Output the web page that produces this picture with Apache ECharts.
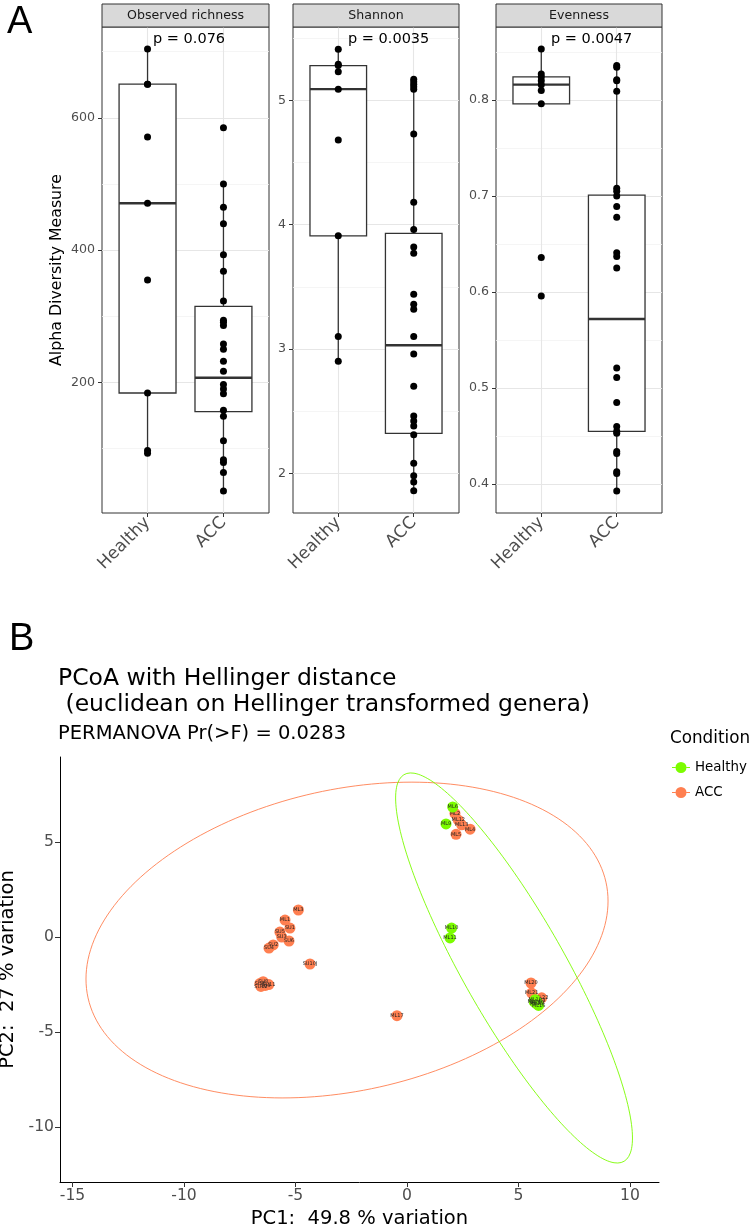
<!DOCTYPE html>
<html><head><meta charset="utf-8">
<script src="https://cdn.jsdelivr.net/npm/echarts@6/dist/echarts.min.js"></script>
<style>html,body{margin:0;padding:0;background:#fff}#c{width:753px;height:1229px}</style>
</head><body><div id="c"></div>
<script>
// ---------------- DATA : panel A ----------------
const groups = ['Healthy', 'ACC'];
const facetNames = ['Observed richness', 'Shannon', 'Evenness'];
const pValues = ['p = 0.076', 'p = 0.0035', 'p = 0.0047'];

const richnessHealthy = [704, 651, 651, 571, 471, 355, 184, 97, 93];
const richnessACC = [585, 500, 465, 440, 393, 368, 323, 294, 291, 286, 258, 250, 232, 217, 197, 190, 183, 158, 149, 112, 83, 79, 64, 36];
const shannonHealthy = [5.41, 5.29, 5.28, 5.23, 5.09, 4.68, 3.91, 3.10, 2.90];
const shannonACC = [5.17, 5.15, 5.13, 5.11, 5.09, 4.73, 4.18, 3.96, 3.82, 3.77, 3.44, 3.36, 3.32, 3.10, 2.96, 2.70, 2.46, 2.42, 2.38, 2.31, 2.08, 1.98, 1.93, 1.86];
const evennessHealthy = [0.853, 0.827, 0.824, 0.820, 0.816, 0.810, 0.796, 0.636, 0.596];
const evennessACC = [0.836, 0.834, 0.821, 0.820, 0.809, 0.708, 0.705, 0.700, 0.689, 0.678, 0.641, 0.637, 0.625, 0.521, 0.511, 0.485, 0.460, 0.455, 0.453, 0.434, 0.432, 0.413, 0.411, 0.393];

// box stats: [lower whisker, Q1, median, Q3, upper whisker]
const boxRichness = [[93, 184, 471, 651, 704], [36, 156, 207, 315, 500]];
const boxShannon = [[2.90, 3.91, 5.09, 5.28, 5.41], [1.86, 2.32, 3.03, 3.93, 5.17]];
const boxEvenness = [[0.796, 0.796, 0.816, 0.824, 0.853], [0.393, 0.455, 0.572, 0.701, 0.836]];

const yMajorTicks = [[200, 400, 600], [2, 3, 4, 5], [0.4, 0.5, 0.6, 0.7, 0.8]];
const yMinorTicks = [[100, 300, 500, 700], [2.5, 3.5, 4.5, 5.5], [0.45, 0.55, 0.65, 0.75, 0.85]];
const yRanges = [[2.6, 737.4], [1.68, 5.59], [0.370, 0.876]];

// ---------------- DATA : panel B ----------------
const accPC1 = [2.15, 2.30, 2.45, 2.83, 2.20, -4.87, -5.47, -5.25, -5.70, -5.62, -5.29, -6.00, -6.19, -4.35, -6.60, -6.45, -6.35, -6.20, -6.55, -0.45, 5.56, 5.59, 6.04, 5.90];
const accPC2 = [6.50, 6.15, 5.90, 5.67, 5.40, 1.42, 0.89, 0.47, 0.26, 0.00, -0.21, -0.42, -0.58, -1.42, -2.45, -2.35, -2.55, -2.50, -2.60, -4.14, -2.42, -2.95, -3.20, -3.35];
const accNames = ['ML2', 'ML12', 'ML13', 'ML4', 'ML5', 'ML3', 'ML1', 'SU1', 'SU5', 'SU3', 'SU6', 'SU2', 'SU4', 'SU10J', 'SU7', 'SU8', 'SU9', 'SU11', 'SU12', 'ML17', 'ML20', 'ML21', 'ML22', 'ML23'];
const healthyPC1 = [2.05, 1.75, 2.00, 1.93, 5.70, 5.80, 5.90, 5.75, 5.85];
const healthyPC2 = [6.84, 5.95, 0.47, -0.05, -3.40, -3.50, -3.60, -3.30, -3.45];
const healthyNames = ['ML6', 'ML9', 'ML10', 'ML11', 'ML14', 'ML15', 'ML16', 'ML18', 'ML19'];
// 95% ellipses: centre [PC1, PC2], shape [sxx, sxy, syy]
const ellipseCenterACC = [-2.69, -0.16];
const ellipseShapeACC = [137, 24, 69];
const ellipseCenterHealthy = [4.80, -1.63];
const ellipseShapeHealthy = [28.2, -47.5, 105.3];
const pcTicks = [-15, -10, -5, 0, 5, 10];
const pc2Ticks = [-10, -5, 0, 5];

// ---------------- BUILD ----------------
const FONT = 'DejaVu Sans';
const greyText = '#4d4d4d';
const facetData = [
  [richnessHealthy, richnessACC, boxRichness],
  [shannonHealthy, shannonACC, boxShannon],
  [evennessHealthy, evennessACC, boxEvenness]
];
const facetGrids = [
  {left: 102, top: 27, width: 167, height: 486},
  {left: 293, top: 27, width: 166, height: 486},
  {left: 496, top: 27, width: 166, height: 486}
];
const pLeft = [153, 348, 551];

function renderBox(params, api) {
  const x = api.value(0);
  const lo = api.coord([x, api.value(1)]);
  const q1 = api.coord([x, api.value(2)]);
  const md = api.coord([x, api.value(3)]);
  const q3 = api.coord([x, api.value(4)]);
  const hi = api.coord([x, api.value(5)]);
  const hw = api.size([0.75, 0])[0] / 2;
  return {type: 'group', children: [
    {type: 'line', shape: {x1: lo[0], y1: lo[1], x2: q1[0], y2: q1[1]}, style: {stroke: '#333333', lineWidth: 1.3, fill: null}},
    {type: 'line', shape: {x1: q3[0], y1: q3[1], x2: hi[0], y2: hi[1]}, style: {stroke: '#333333', lineWidth: 1.3, fill: null}},
    {type: 'rect', shape: {x: q3[0] - hw, y: q3[1], width: 2 * hw, height: q1[1] - q3[1]}, style: {stroke: '#333333', lineWidth: 1.3, fill: '#ffffff'}},
    {type: 'line', shape: {x1: md[0] - hw, y1: md[1], x2: md[0] + hw, y2: md[1]}, style: {stroke: '#333333', lineWidth: 2.4, fill: null}}
  ]};
}

const grids = [], xAxes = [], yAxes = [], series = [], graphics = [];
facetGrids.forEach((g, i) => {
  grids.push(Object.assign({show: true, borderColor: '#333333', borderWidth: 1, backgroundColor: 'transparent', outerBoundsMode: 'none', containLabel: false}, g));
  xAxes.push({
    gridIndex: i, type: 'value', min: 0.4, max: 2.6,
    axisLine: {show: false}, splitLine: {show: false},
    axisTick: {show: true, customValues: [1, 2], length: 4, lineStyle: {color: '#333333'}},
    axisLabel: {customValues: [1, 2], formatter: v => groups[Math.round(v) - 1], rotate: 45, fontSize: 17, color: greyText, fontFamily: FONT, margin: 7}
  });
  const y = {
    gridIndex: i, type: 'value', min: yRanges[i][0], max: yRanges[i][1],
    axisLine: {show: false}, splitLine: {show: false},
    axisTick: {show: true, customValues: yMajorTicks[i], length: 4, lineStyle: {color: '#333333'}},
    axisLabel: {customValues: yMajorTicks[i], fontSize: 12.6, color: greyText, fontFamily: FONT, margin: 7}
  };
  if (i === 0) {
    y.name = 'Alpha Diversity Measure';
    y.nameLocation = 'middle';
    y.nameGap = 37;
    y.nameTextStyle = {fontSize: 15.75, color: '#000', fontFamily: FONT};
  }
  yAxes.push(y);
  // grid lines
  series.push({
    type: 'line', xAxisIndex: i, yAxisIndex: i, data: [], z: 0, silent: true,
    markLine: {
      z: 0, silent: true, symbol: 'none', animation: false, label: {show: false},
      data: [
        ...yMinorTicks[i].map(v => ({yAxis: v, lineStyle: {color: '#f2f2f2', width: 0.8, type: 'solid'}})),
        ...yMajorTicks[i].map(v => ({yAxis: v, lineStyle: {color: '#e6e6e6', width: 1.1, type: 'solid'}})),
        {xAxis: 1, lineStyle: {color: '#e6e6e6', width: 1.1, type: 'solid'}},
        {xAxis: 2, lineStyle: {color: '#e6e6e6', width: 1.1, type: 'solid'}}
      ]
    }
  });
  const [hData, aData, box] = facetData[i];
  series.push({
    type: 'custom', xAxisIndex: i, yAxisIndex: i, z: 6, renderItem: renderBox,
    data: box.map((b, k) => [k + 1, ...b]), silent: true
  });
  series.push({
    type: 'scatter', xAxisIndex: i, yAxisIndex: i, z: 7, symbolSize: 7,
    itemStyle: {color: '#000000', opacity: 1}, silent: true,
    data: [...hData.map(v => [1, v]), ...aData.map(v => [2, v])]
  });
  // strip
  graphics.push({type: 'rect', shape: {x: g.left, y: 4, width: g.width, height: 23}, style: {fill: '#d9d9d9', stroke: '#333333', lineWidth: 1}, z: 10});
  graphics.push({type: 'text', x: g.left + g.width / 2, y: 15.5, style: {text: facetNames[i], fontSize: 12.6, fontFamily: FONT, fill: '#1a1a1a', align: 'center', verticalAlign: 'middle'}, z: 11});
  graphics.push({type: 'text', x: pLeft[i], y: 39, style: {text: pValues[i], fontSize: 14.5, fontFamily: FONT, fill: '#000', align: 'left', verticalAlign: 'middle'}, z: 11});
});

// panel B
grids.push({left: 60, top: 757, width: 599, height: 425, show: false, outerBoundsMode: 'none', containLabel: false});
xAxes.push({
  gridIndex: 3, type: 'value', min: -15.56, max: 11.3,
  axisLine: {show: true, onZero: false, lineStyle: {color: '#000', width: 1}},
  axisTick: {show: true, customValues: pcTicks, length: 5, lineStyle: {color: '#333'}},
  axisLabel: {customValues: pcTicks, fontSize: 15.6, color: greyText, fontFamily: FONT, margin: 6},
  splitLine: {show: false},
  name: 'PC1:  49.8 % variation', nameLocation: 'middle', nameGap: 27,
  nameTextStyle: {fontSize: 19.5, color: '#000', fontFamily: FONT}
});
yAxes.push({
  gridIndex: 3, type: 'value', min: -12.89, max: 9.47,
  axisLine: {show: true, onZero: false, lineStyle: {color: '#000', width: 1}},
  axisTick: {show: true, customValues: pc2Ticks, length: 5, lineStyle: {color: '#333'}},
  axisLabel: {customValues: pc2Ticks, fontSize: 15.6, color: greyText, fontFamily: FONT, margin: 6},
  splitLine: {show: false},
  name: 'PC2:  27 % variation', nameLocation: 'middle', nameGap: 29,
  nameTextStyle: {fontSize: 19.5, color: '#000', fontFamily: FONT}
});

function ellipsePoints(c, s) {
  const l11 = Math.sqrt(s[0]);
  const l21 = s[1] / l11;
  const l22 = Math.sqrt(s[2] - l21 * l21);
  const pts = [];
  for (let k = 0; k <= 200; k++) {
    const t = 2 * Math.PI * k / 200;
    pts.push([c[0] + l11 * Math.cos(t), c[1] + l21 * Math.cos(t) + l22 * Math.sin(t)]);
  }
  return pts;
}
const GREEN = '#7CFC00', CORAL = '#FF7F50';
series.push({
  name: 'ellipseACC', type: 'line', xAxisIndex: 3, yAxisIndex: 3, z: 2, showSymbol: false, silent: true,
  lineStyle: {color: CORAL, width: 0.9}, data: ellipsePoints(ellipseCenterACC, ellipseShapeACC)
});
series.push({
  name: 'ellipseHealthy', type: 'line', xAxisIndex: 3, yAxisIndex: 3, z: 2, showSymbol: false, silent: true,
  lineStyle: {color: GREEN, width: 0.9}, data: ellipsePoints(ellipseCenterHealthy, ellipseShapeHealthy)
});
const ptLabel = {show: true, position: 'inside', formatter: '{b}', fontSize: 5, color: '#222', fontFamily: FONT};
series.push({
  name: 'ACC', type: 'scatter', xAxisIndex: 3, yAxisIndex: 3, z: 3, symbolSize: 11,
  itemStyle: {color: CORAL, opacity: 1}, label: ptLabel,
  data: accPC1.map((v, k) => ({value: [v, accPC2[k]], name: accNames[k]}))
});
series.push({
  name: 'Healthy', type: 'scatter', xAxisIndex: 3, yAxisIndex: 3, z: 4, symbolSize: 11,
  itemStyle: {color: GREEN, opacity: 1}, label: ptLabel,
  data: healthyPC1.map((v, k) => ({value: [v, healthyPC2[k]], name: healthyNames[k]}))
});

const option = {
  animation: false,
  backgroundColor: '#ffffff',
  title: [
    {text: 'A', left: 7, top: 4, padding: 0, textStyle: {fontFamily: 'Liberation Sans', fontSize: 38, fontWeight: 'normal', color: '#000'}},
    {text: 'B', left: 9, top: 621, padding: 0, textStyle: {fontFamily: 'Liberation Sans', fontSize: 38, fontWeight: 'normal', color: '#000'}},
    {text: 'PCoA with Hellinger distance\n (euclidean on Hellinger transformed genera)', left: 58, top: 666, padding: 0,
      textStyle: {fontFamily: FONT, fontSize: 23.5, lineHeight: 26, fontWeight: 'normal', color: '#000'}},
    {text: 'PERMANOVA Pr(>F) = 0.0283', left: 58, top: 724, padding: 0,
      textStyle: {fontFamily: FONT, fontSize: 19.5, fontWeight: 'normal', color: '#000'}},
    {text: 'Condition', left: 670, top: 730, padding: 0,
      textStyle: {fontFamily: FONT, fontSize: 16.8, fontWeight: 'normal', color: '#000'}}
  ],
  legend: {
    data: ['Healthy', 'ACC'], orient: 'vertical', left: 672, top: 761, itemGap: 12,
    itemWidth: 18, itemHeight: 11, selectedMode: false, padding: 0,
    icon: 'path://M0,5L3.6,5L3.6,6L0,6Z M14.4,5L18,5L18,6L14.4,6Z M3.5,5.5A5.5,5.5 0 1,0 14.5,5.5A5.5,5.5 0 1,0 3.5,5.5Z',
    textStyle: {fontFamily: FONT, fontSize: 13.4, color: '#000'}
  },
  grid: grids, xAxis: xAxes, yAxis: yAxes, series: series,
  graphic: graphics
};
const chart = echarts.init(document.getElementById('c'), null, {renderer: 'canvas'});
chart.setOption(option);
</script></body></html>
